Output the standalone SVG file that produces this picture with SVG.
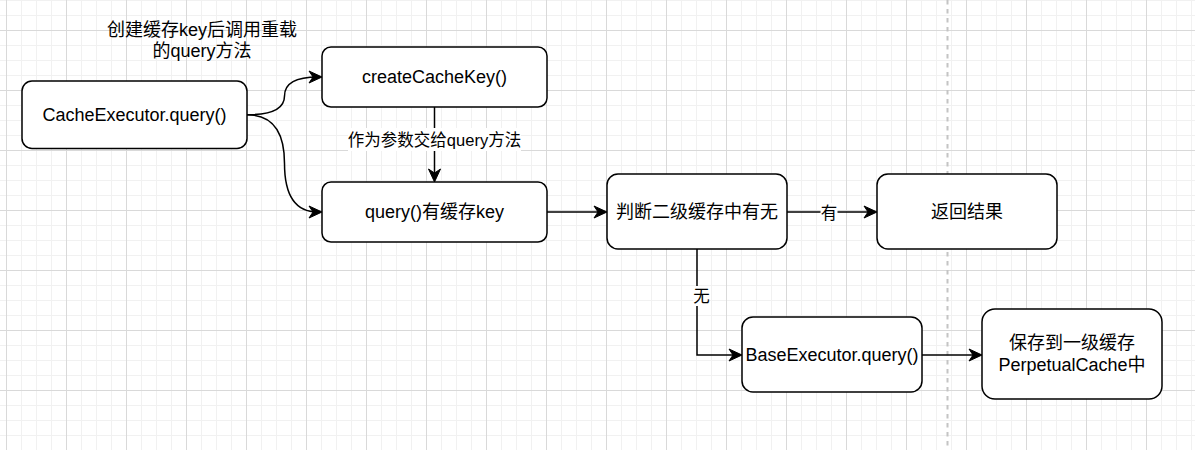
<svg xmlns="http://www.w3.org/2000/svg" width="1195" height="450" viewBox="0 0 1195 450">
<style>
.node rect{fill:#fff;stroke:#000;stroke-width:1.5}
.node text{font-family:"Liberation Sans","Noto Sans CJK SC",sans-serif;font-size:18px;fill:#000;text-anchor:middle}
.lbl{font-family:"Liberation Sans","Noto Sans CJK SC",sans-serif;font-size:16.5px;fill:#000;text-anchor:middle}
.free{font-family:"Liberation Sans","Noto Sans CJK SC",sans-serif;font-size:18px;fill:#000;text-anchor:middle}
.edge{fill:none;stroke:#000;stroke-width:1.5;marker-end:url(#arr)}
.lblbg{fill:#fff}
</style>
<defs>
<pattern id="grid" patternUnits="userSpaceOnUse" x="6" y="30" width="60" height="60">
<rect x="15" y="0" width="1" height="60" fill="#f1f1f1"/>
<rect x="30" y="0" width="1" height="60" fill="#f1f1f1"/>
<rect x="45" y="0" width="1" height="60" fill="#f1f1f1"/>
<rect x="0" y="15" width="60" height="1" fill="#f1f1f1"/>
<rect x="0" y="30" width="60" height="1" fill="#f1f1f1"/>
<rect x="0" y="45" width="60" height="1" fill="#f1f1f1"/>
<rect x="0" y="0" width="1" height="60" fill="#d9d9d9"/>
<rect x="0" y="0" width="60" height="1" fill="#d9d9d9"/>
</pattern>
<marker id="arr" markerUnits="userSpaceOnUse" viewBox="-14 -7 15 14" refX="-4" refY="0" markerWidth="15" markerHeight="14" orient="auto">
<path d="M0,0 L-13,-6 L-9,0 L-13,6 Z" fill="#000" stroke="#000" stroke-width="1" stroke-linejoin="miter"/>
</marker>
</defs>
<rect width="1195" height="450" fill="#fff"/>
<rect width="1195" height="450" fill="url(#grid)"/>
<line x1="947.5" y1="0" x2="947.5" y2="450" stroke="#c4c4c4" stroke-width="2" stroke-dasharray="4.5 4.5"/>

<text class="free" x="202" y="35.5">创建缓存key后调用重载</text>
<text class="free" x="202" y="57">的query方法</text>

<g id="connectors">
<path class="edge" d="M247,114.75 Q284.5,114.75 284.5,95.9 Q284.5,77 318,77"/>
<path class="edge" d="M247,114.75 Q284.5,114.75 284.5,163.4 Q284.5,212 318,212"/>
<path class="edge" d="M434.5,107 L434.5,178"/>
<path class="edge" d="M547,212 L603,212"/>
<path class="edge" d="M787,212 L873,212"/>
<path class="edge" d="M697,249 L697,355 L738,355"/>
<path class="edge" d="M922,355 L978,355"/>
<rect class="lblbg" x="348" y="128" width="173" height="23"/>
<text class="lbl" x="434.5" y="146">作为参数交给query方法</text>
<rect class="lblbg" x="820.5" y="203" width="17" height="20"/>
<text class="lbl" x="829" y="219">有</text>
<rect class="lblbg" x="693" y="286" width="17" height="20"/>
<text class="lbl" x="701.5" y="302">无</text>
</g>

<g id="n1" class="node"><rect x="22" y="81" width="225" height="67.5" rx="10"/><text x="134.5" y="120.5">CacheExecutor.query()</text></g>
<g id="n2" class="node"><rect x="322" y="47" width="225" height="60" rx="9"/><text x="434.5" y="83">createCacheKey()</text></g>
<g id="n3" class="node"><rect x="322" y="182" width="225" height="60" rx="9"/><text x="434.5" y="218">query()有缓存key</text></g>
<g id="n4" class="node"><rect x="607" y="174" width="180" height="75" rx="11"/><text x="697" y="218">判断二级缓存中有无</text></g>
<g id="n5" class="node"><rect x="877" y="174" width="180" height="75" rx="11"/><text x="967" y="218">返回结果</text></g>
<g id="n6" class="node"><rect x="742" y="317" width="180" height="75" rx="11"/><text x="832" y="361">BaseExecutor.query()</text></g>
<g id="n7" class="node"><rect x="982" y="309" width="180" height="90" rx="13"/><text x="1072" y="348.5">保存到一级缓存</text><text x="1072" y="370.5">PerpetualCache中</text></g>
</svg>
